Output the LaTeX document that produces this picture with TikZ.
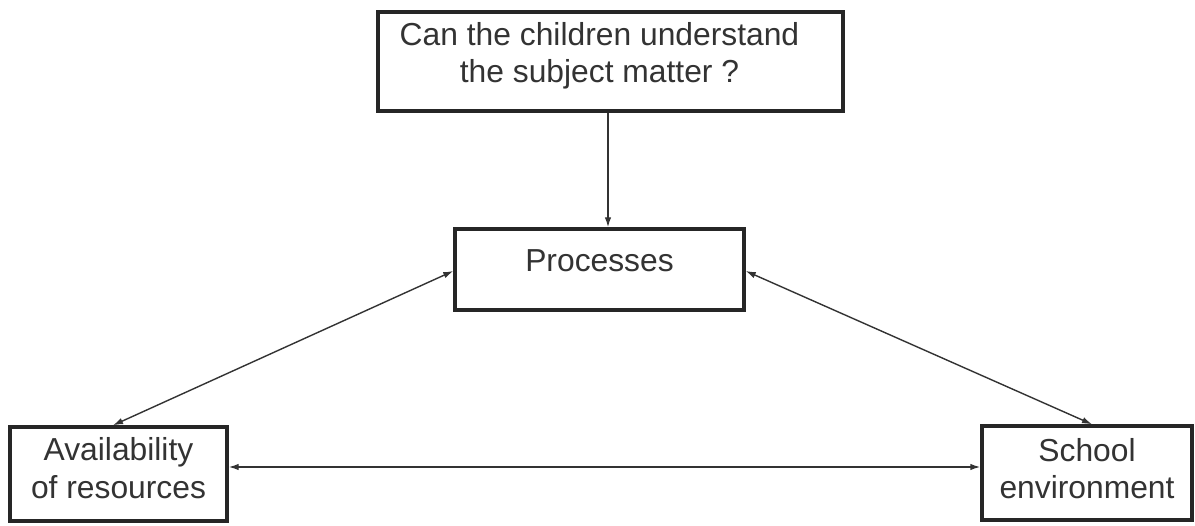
\documentclass[tikz,border=0pt]{standalone}
\usepackage{fontspec}
\setmainfont{Liberation Sans}
\usetikzlibrary{arrows.meta,calc}
\tikzset{
  box/.style={draw=black!85, line width=3.4pt, inner sep=0pt, align=center,
    text=black!80, font=\fontsize{31.8}{37.5}\selectfont},
  conn/.style={draw=black!80, line width=1.4pt, >={Latex[length=10pt,width=6.5pt]}}
}
\begin{document}
\begin{tikzpicture}[x=1pt,y=-1pt]
\useasboundingbox[fill=white] (0,0) rectangle (1195,526);
\node[box, minimum width=465pt, minimum height=99pt, text depth=18pt] (top) at (610.5,61.5)
  {Can the children understand\hspace*{22pt}\\the subject matter ?\hspace*{22pt}};
\node[box, minimum width=289pt, minimum height=81pt, text height=22.2pt, text depth=19pt] (proc) at (599.5,269.5) {Processes};
\node[box, minimum width=217pt, minimum height=94pt, text depth=12.2pt] (avail) at (118.5,474) {Availability\\of resources};
\node[box, minimum width=210pt, minimum height=94pt, text depth=9.2pt] (school) at (1087,473) {School\\environment};
\coordinate (vx) at (608,0);
\coordinate (hl) at ([yshift=7pt]avail.east);
\draw[conn, ->] (top.south -| vx) -- (proc.north -| vx);
\draw[conn, <->] ([yshift=-1.5pt]proc.west) -- ([xshift=-5.5pt]avail.north);
\draw[conn, <->] ([yshift=-1.5pt]proc.east) -- ([xshift=5pt]school.north);
\draw[conn, <->] (hl) -- (school.west |- hl);
\end{tikzpicture}
\end{document}
